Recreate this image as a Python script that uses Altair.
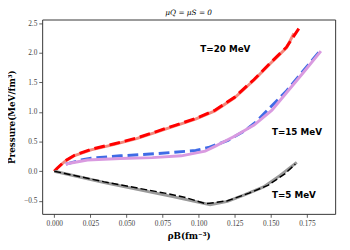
import altair as alt
import pandas as pd

# T = 20 MeV
x20 = [0, 0.002, 0.0075, 0.014, 0.0255, 0.041, 0.057, 0.0707, 0.0842, 0.0978, 0.1113, 0.1249, 0.1384, 0.1497, 0.161, 0.1694]
y20_dash = [0, 0.05, 0.175, 0.27, 0.37, 0.46, 0.56, 0.67, 0.78, 0.89, 1.03, 1.25, 1.55, 1.83, 2.10, 2.41]
x20_solid = [0, 0.002, 0.0075, 0.014, 0.0255, 0.041, 0.057, 0.0707, 0.0842, 0.0978, 0.1113, 0.1249, 0.1384, 0.1497, 0.161, 0.166]
y20_solid = [0, 0.05, 0.17, 0.265, 0.36, 0.45, 0.55, 0.66, 0.77, 0.88, 1.02, 1.24, 1.54, 1.82, 2.09, 2.33]

# T = 15 MeV
x15_dash = [0.008, 0.0187, 0.0255, 0.0458, 0.064, 0.083, 0.098, 0.1068, 0.1203, 0.1317, 0.1396, 0.1497, 0.161, 0.1723, 0.1847]
y15_dash = [0.12, 0.19, 0.22, 0.26, 0.285, 0.32, 0.35, 0.40, 0.52, 0.68, 0.83, 1.08, 1.36, 1.69, 2.05]
x15_solid = [0.008, 0.0097, 0.023, 0.0458, 0.068, 0.088, 0.1045, 0.1113, 0.1249, 0.1384, 0.1508, 0.161, 0.1723, 0.1847]
y15_solid = [0.11, 0.13, 0.19, 0.215, 0.23, 0.26, 0.34, 0.42, 0.59, 0.78, 1.03, 1.33, 1.66, 2.03]

# T = 5 MeV
x5_solid = [0, 0.0346, 0.082, 0.108, 0.12, 0.1317, 0.145, 0.1565, 0.168]
y5_solid = [0, -0.19, -0.43, -0.566, -0.51, -0.40, -0.265, -0.07, 0.15]
x5_dash = [0, 0.0346, 0.0775, 0.091, 0.105, 0.12, 0.135, 0.148, 0.16, 0.167]
y5_dash = [0, -0.18, -0.375, -0.445, -0.55, -0.5, -0.37, -0.24, -0.04, 0.12]

labels = ["T=20 MeV", "T=15 MeV", "T=5 MeV"]
label_x = [0.1012, 0.1508, 0.1508]
label_y = [2.07, 0.657, -0.40]

x_ticks = [0, 0.025, 0.05, 0.075, 0.1, 0.125, 0.15, 0.175]
y_ticks = [-0.5, 0.0, 0.5, 1.0, 1.5, 2.0, 2.5]

xdom = [-0.0084, 0.1946]
ydom = [-0.721, 2.563]

xs = alt.Scale(domain=xdom, nice=False, zero=False)
ys = alt.Scale(domain=ydom, nice=False, zero=False)

X = alt.X("x:Q", scale=xs, axis=alt.Axis(values=x_ticks, format=".3f", labelOverlap=False,
          title="ρB(fm⁻³)", titleX=150, titleY=22, titleBaseline="middle", titleAlign="center"))
Y = alt.Y("y:Q", scale=ys, axis=alt.Axis(values=y_ticks, format=".1f", labelOverlap=False,
          title="Pressure(MeV/fm³)", titleX=-31, titleY=99.5, titleAngle=270,
          titleBaseline="middle", titleAlign="center"))


def line(xv, yv, color, width, dash=None):
    df = pd.DataFrame({"x": xv, "y": yv, "o": list(range(len(xv)))})
    kw = dict(color=color, strokeWidth=width, strokeCap="butt")
    if dash:
        kw["strokeDash"] = dash
    return alt.Chart(df).mark_line(**kw).encode(x=X, y=Y, order="o:Q")


layers = [
    line(x20_solid, y20_solid, "#f4877c", 3),
    line(x20, y20_dash, "#ff0000", 3, [11, 5]),
    line(x15_dash, y15_dash, "#3f6be6", 3, [11, 5]),
    line(x15_solid, y15_solid, "#d99ae0", 3),
    line(x5_solid, y5_solid, "#9a9a9a", 3),
    line(x5_dash, y5_dash, "#000000", 1.5, [7, 3]),
]

text_df = pd.DataFrame({"x": label_x, "y": label_y, "t": labels})
texts = alt.Chart(text_df).mark_text(align="left", baseline="middle", font="DejaVu Sans",
                                     fontWeight="bold", fontSize=9, color="black").encode(
    x=X, y=Y, text="t:N")

chart = alt.layer(*layers, texts).properties(
    width=300, height=199,
    autosize=alt.AutoSizeParams(type="none"),
    padding={"left": 35, "top": 9, "right": 7, "bottom": 26},
    title=alt.TitleParams("μQ = μS = 0", font="DejaVu Serif", fontStyle="italic",
                          fontSize=7.5, fontWeight="normal", offset=3, anchor="middle", color="black"),
).configure_view(stroke="#333333", strokeWidth=1).configure_axis(
    grid=False, domain=False, tickColor="#333333", tickSize=3.5, tickWidth=0.8,
    labelFont="Liberation Serif", labelFontSize=7.5, labelColor="#444444", labelPadding=2,
    titleFont="DejaVu Serif", titleFontWeight="bold", titleFontSize=9, titleColor="black",
)

chart.save("out.html", embed_options={"renderer": "svg", "actions": False})
